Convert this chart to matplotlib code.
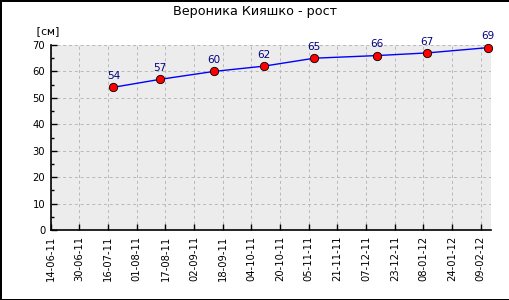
import datetime as dt

import numpy as np
import matplotlib.pyplot as plt

# measurement dates and height in cm
dates = ["2011-07-19", "2011-08-14", "2011-09-13", "2011-10-11",
         "2011-11-08", "2011-12-13", "2012-01-10", "2012-02-13"]
height = [54, 57, 60, 62, 65, 66, 67, 69]

tick_labels = ["14-06-11", "30-06-11", "16-07-11", "01-08-11", "17-08-11",
               "02-09-11", "18-09-11", "04-10-11", "20-10-11", "05-11-11",
               "21-11-11", "07-12-11", "23-12-11", "08-01-12", "24-01-12",
               "09-02-12"]

title = "Вероника Кияшко - рост"
unit = "[см]"

x = [dt.datetime.strptime(d, "%Y-%m-%d") for d in dates]
ticks = [dt.datetime.strptime(t, "%d-%m-%y") for t in tick_labels]

plt.rcParams["font.family"] = ["DejaVu Sans"]

fig = plt.figure(figsize=(5.1, 3.0), dpi=100)
fig.patch.set_edgecolor("black")
fig.patch.set_linewidth(1.0)

ax = fig.add_axes([50.7 / 510, 70 / 300, 440 / 510, 185 / 300])
ax.set_facecolor("#ececec")

ax.plot(x, height, color="#0000ff", lw=1.0, marker="o", markersize=6,
        markerfacecolor="#ff0000", markeredgecolor="black", markeredgewidth=0.6,
        zorder=3, clip_on=False)

for xi, yi in zip(x, height):
    ax.annotate(str(yi), (xi, yi), xytext=(0, 4.5), textcoords="offset points",
                ha="center", va="bottom", color="#000080", fontsize=7.5,
                annotation_clip=False)

ax.set_ylim(0, 70)
ax.set_yticks(np.arange(0, 71, 10))
ax.set_yticks(np.arange(5, 70, 10), minor=True)
ax.set_xlim(ticks[0], dt.datetime(2012, 2, 14, 12))
ax.set_xticks(ticks)
ax.set_xticklabels(tick_labels, rotation=90)

ax.tick_params(axis="both", direction="in", labelsize=7.2, length=4, width=1,
               pad=4)
ax.tick_params(axis="y", which="minor", direction="in", length=2.5, width=1)
ax.grid(True, which="major", color="#b8b8b8", linestyle=(0, (3, 3)), lw=0.7)
ax.set_axisbelow(True)

for s in ["top", "right"]:
    ax.spines[s].set_visible(False)
for s in ["left", "bottom"]:
    ax.spines[s].set_linewidth(1.2)

fig.text(0.5, 1 - 12 / 300, title, ha="center", va="center", fontsize=9.2)
fig.text(48 / 510, 1 - 31 / 300, unit, ha="center", va="center", fontsize=8,
         family="DejaVu Sans Mono")

fig.savefig("out.png", dpi=100)
